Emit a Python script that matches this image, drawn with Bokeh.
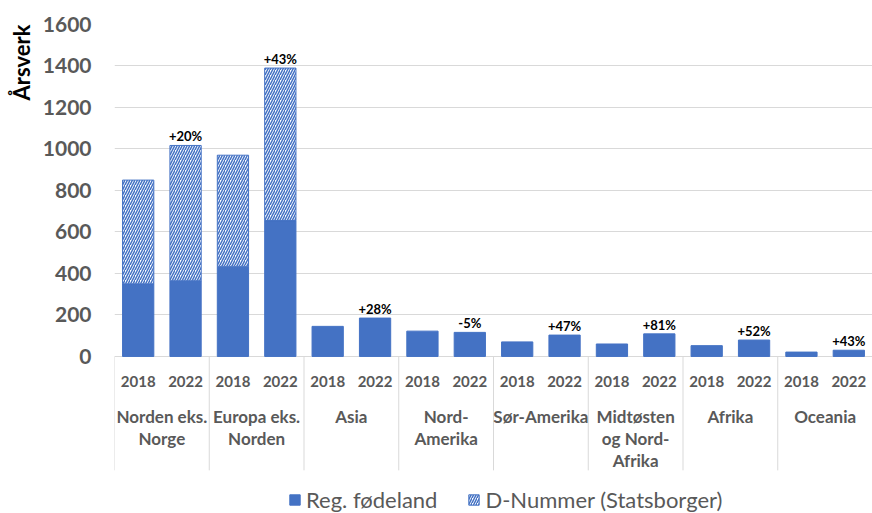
from bokeh.plotting import figure
from bokeh.models import Range1d, FixedTicker, Title, Legend, LegendItem
from bokeh.core.properties import value
from bokeh.embed import file_html
from bokeh.resources import INLINE

# ---- data ----
groups = ["Norden eks.\nNorge", "Europa eks.\nNorden", "Asia", "Nord-\nAmerika",
          "Sør-Amerika", "Midtøsten\nog Nord-\nAfrika", "Afrika", "Oceania"]
years = ["2018", "2022"]
reg_2018 = [350, 435, 145, 122, 70, 60, 52, 21]
dnum_2018 = [500, 535, 0, 0, 0, 0, 0, 0]
reg_2022 = [365, 655, 185, 116, 103, 109, 79, 30]
dnum_2022 = [652, 735, 0, 0, 0, 0, 0, 0]
change_2022 = ["+20%", "+43%", "+28%", "-5%", "+47%", "+81%", "+52%", "+43%"]
y_ticks = [0, 200, 400, 600, 800, 1000, 1200, 1400, 1600]
series_names = ["Reg. fødeland", "D-Nummer (Statsborger)"]
y_title = "Årsverk"

BLUE = "#4472C4"
GRAY = "#595959"
GRID = "#D9D9D9"
FONT = "Lato"

# ---- build tables ----
bar_x, bar_reg, bar_year = [], [], []
h_x, h_bot, h_top = [], [], []
for g in range(len(groups)):
    pairs = [(reg_2018[g], dnum_2018[g]), (reg_2022[g], dnum_2022[g])]
    for k, (r, d) in enumerate(pairs):
        x = 2 * g + k + 0.5
        bar_x.append(x)
        bar_reg.append(r)
        bar_year.append(years[k])
        if d > 0:
            h_x.append(x)
            h_bot.append(r)
            h_top.append(r + d)

pct_x = [2 * g + 1.5 for g in range(len(groups))]
pct_y = [reg_2022[g] + dnum_2022[g] for g in range(len(groups))]

sep_x = [2 * g for g in range(len(groups) + 1)]

gl_x, gl_y, gl_t = [], [], []
for g, lab in enumerate(groups):
    for i, line in enumerate(lab.split("\n")):
        gl_x.append(2 * g + 1)
        gl_y.append(-288 - 107 * i)
        gl_t.append(line)

p = figure(width=872, height=513, x_range=Range1d(0, 16), y_range=Range1d(-757, 1600),
           output_backend="svg", toolbar_location=None, x_axis_location=None,
           min_border_left=113, min_border_right=0, min_border_top=24, min_border_bottom=0)
p.outline_line_color = None
p.xgrid.visible = False
p.ygrid.ticker = FixedTicker(ticks=y_ticks)
p.ygrid.grid_line_color = GRID
p.ygrid.grid_line_width = 1

ax = p.yaxis[0]
ax.ticker = FixedTicker(ticks=y_ticks)
ax.axis_line_color = None
ax.major_tick_line_color = None
ax.minor_tick_line_color = None
ax.major_tick_out = 0
ax.major_tick_in = 0
ax.major_label_standoff = 23
ax.major_label_text_font = FONT
ax.major_label_text_font_size = "21px"
ax.major_label_text_font_style = "bold"
ax.major_label_text_color = GRAY

p.add_layout(Title(text=y_title, align="right", text_font=FONT, text_font_size="22px",
                   text_font_style="bold", text_color="black"), "left")

r_solid = p.vbar(x=bar_x, bottom=0, top=bar_reg, width=0.66,
                 fill_color=BLUE, line_color=BLUE)
r_hatch = p.vbar(x=h_x, bottom=h_bot, top=h_top, width=0.66,
                 fill_color="white", line_color=BLUE, line_width=1,
                 hatch_pattern="/", hatch_color=BLUE, hatch_scale=5, hatch_weight=1.5)

p.segment(x0=sep_x, y0=0, x1=sep_x, y1=-549, line_color=GRID, line_width=1)

p.text(x=bar_x, y=-120, text=bar_year, text_font=value(FONT), text_font_size="15px",
       text_font_style="bold", text_color=GRAY, text_align="center", text_baseline="middle")
p.text(x=gl_x, y=gl_y, text=gl_t, text_font=value(FONT), text_font_size="17px",
       text_font_style="bold", text_color=GRAY, text_align="center", text_baseline="middle")
p.text(x=pct_x, y=pct_y, text=change_2022, text_font=value(FONT), text_font_size="13px",
       text_font_style="bold", text_color="black", text_align="center",
       text_baseline="bottom", y_offset=-1)

legend = Legend(items=[LegendItem(label=series_names[0], renderers=[r_solid]),
                       LegendItem(label=series_names[1], renderers=[r_hatch])],
                orientation="horizontal", location=(174, 0),
                label_text_font=FONT, label_text_font_size="22px", label_text_color=GRAY,
                glyph_width=13, glyph_height=13, spacing=30, label_standoff=5,
                background_fill_alpha=0, border_line_color=None, margin=0, padding=0)
p.add_layout(legend)

open("out.html", "w").write(file_html(p, INLINE))
